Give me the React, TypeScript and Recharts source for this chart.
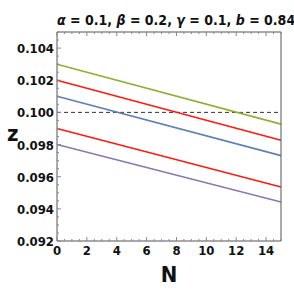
import { LineChart, Line, XAxis, YAxis, ReferenceLine } from "recharts";

// N from 0 to 15, z at both ends (straight lines)
const nValues = [0, 15];
const greenZ = [0.103, 0.09927];
const redTopZ = [0.102, 0.09827];
const blueZ = [0.101, 0.09731];
const redLowZ = [0.099, 0.09536];
const purpleZ = [0.098, 0.09442];

const xMajorTicks = [0, 2, 4, 6, 8, 10, 12, 14];
const yMajorTicks = [0.092, 0.094, 0.096, 0.098, 0.1, 0.102, 0.104];

const xMinorTicks: number[] = [];
for (let i = 0; i <= 30; i++) xMinorTicks.push(i * 0.5);
const yMinorTicks: number[] = [];
for (let i = 0; i <= 26; i++) yMinorTicks.push(+(0.092 + i * 0.0005).toFixed(4));

const chartData = nValues.map((n, i) => ({
  n,
  green: greenZ[i],
  redTop: redTopZ[i],
  blue: blueZ[i],
  redLow: redLowZ[i],
  purple: purpleZ[i],
}));

const FONT = "'Liberation Sans Narrow', 'DejaVu Sans Condensed', 'Liberation Sans', sans-serif";
const FRAME = "#555";
const TICK = "#888";

const isMajorX = (v: number) => xMajorTicks.includes(v);
const isMajorY = (v: number) => yMajorTicks.some((t) => Math.abs(t - v) < 1e-7);

const BottomTick = (props: any) => {
  const { x, y, payload } = props;
  const major = isMajorX(payload.value);
  return (
    <g>
      <line x1={x} x2={x} y1={y} y2={y - (major ? 4 : 2)} stroke={TICK} />
      {major && (
        <text x={x} y={y + 14} textAnchor="middle" fontSize={13} fontWeight="bold" fontFamily={FONT} fill="#111">
          {payload.value}
        </text>
      )}
    </g>
  );
};

const TopTick = (props: any) => {
  const { x, y, payload } = props;
  const major = isMajorX(payload.value);
  return <line x1={x} x2={x} y1={y} y2={y + (major ? 4 : 2)} stroke={TICK} />;
};

const LeftTick = (props: any) => {
  const { x, y, payload } = props;
  const major = isMajorY(payload.value);
  return (
    <g>
      <line x1={x} x2={x + (major ? 4 : 2)} y1={y} y2={y} stroke={TICK} />
      {major && (
        <text x={x - 3} y={y + 5} textAnchor="end" fontSize={13} fontWeight="bold" fontFamily={FONT} fill="#111">
          {payload.value.toFixed(3)}
        </text>
      )}
    </g>
  );
};

const RightTick = (props: any) => {
  const { x, y, payload } = props;
  const major = isMajorY(payload.value);
  return <line x1={x} x2={x - (major ? 4 : 2)} y1={y} y2={y} stroke={TICK} />;
};

export default function App() {
  return (
    <div style={{ position: "absolute", left: 0, top: 0, width: 294, height: 294, background: "#fff" }}>
      <LineChart
        width={294}
        height={294}
        data={chartData}
        margin={{ top: 31, right: 12, bottom: 52, left: 56 }}
      >
        <XAxis
          xAxisId="b"
          dataKey="n"
          type="number"
          domain={[0, 15]}
          ticks={xMinorTicks}
          interval={0}
          height={1}
          tickSize={0}
          tickMargin={0}
          tick={<BottomTick />}
          axisLine={{ stroke: FRAME }}
        />
        <XAxis
          xAxisId="t"
          orientation="top"
          dataKey="n"
          type="number"
          domain={[0, 15]}
          ticks={xMinorTicks}
          interval={0}
          height={1}
          tickSize={0}
          tickMargin={0}
          tick={<TopTick />}
          axisLine={{ stroke: FRAME }}
        />
        <YAxis
          yAxisId="l"
          type="number"
          domain={[0.092, 0.105]}
          ticks={yMinorTicks}
          interval={0}
          width={1}
          tickSize={0}
          tickMargin={0}
          tick={<LeftTick />}
          axisLine={{ stroke: FRAME }}
        />
        <YAxis
          yAxisId="r"
          orientation="right"
          type="number"
          domain={[0.092, 0.105]}
          ticks={yMinorTicks}
          interval={0}
          width={1}
          tickSize={0}
          tickMargin={0}
          tick={<RightTick />}
          axisLine={{ stroke: FRAME }}
        />
        <ReferenceLine xAxisId="b" yAxisId="l" y={0.1} stroke="#333" strokeDasharray="4 3" strokeWidth={1} />
        <Line xAxisId="b" yAxisId="l" dataKey="green" stroke="#8fb032" strokeWidth={1.6} dot={false} isAnimationActive={false} />
        <Line xAxisId="b" yAxisId="l" dataKey="redTop" stroke="#ff1a10" strokeWidth={1.6} dot={false} isAnimationActive={false} />
        <Line xAxisId="b" yAxisId="l" dataKey="blue" stroke="#5e81b5" strokeWidth={1.6} dot={false} isAnimationActive={false} />
        <Line xAxisId="b" yAxisId="l" dataKey="redLow" stroke="#ff1a10" strokeWidth={1.6} dot={false} isAnimationActive={false} />
        <Line xAxisId="b" yAxisId="l" dataKey="purple" stroke="#8a78b6" strokeWidth={1.6} dot={false} isAnimationActive={false} />
      </LineChart>
      <div
        style={{
          position: "absolute",
          left: 57,
          width: 224,
          top: 12,
          textAlign: "center",
          fontFamily: FONT,
          fontWeight: "bold",
          fontSize: 14,
          color: "#111",
          whiteSpace: "nowrap",
        }}
      >
        <i>α</i> = 0.1, <i>β</i> = 0.2, <i>γ</i> = 0.1, <i>b</i> = 0.84
      </div>
      <div
        style={{
          position: "absolute",
          left: 7,
          top: 121,
          fontFamily: FONT,
          fontWeight: "bold",
          fontSize: 22,
          color: "#111",
        }}
      >
        z
      </div>
      <div
        style={{
          position: "absolute",
          left: 57,
          width: 224,
          top: 262,
          textAlign: "center",
          fontFamily: FONT,
          fontWeight: "bold",
          fontSize: 22,
          color: "#111",
        }}
      >
        N
      </div>
    </div>
  );
}
